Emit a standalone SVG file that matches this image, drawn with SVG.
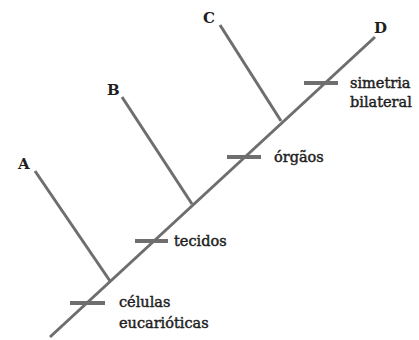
<svg xmlns="http://www.w3.org/2000/svg" width="419" height="340" viewBox="0 0 419 340">
<style>
.ln{stroke:#6e6e6e;stroke-width:3;fill:none;stroke-linecap:butt}
.tk{stroke:#6e6e6e;stroke-width:4;fill:none}
.lbl{font-family:"DejaVu Serif","Liberation Serif",serif;font-size:14.5px;fill:#1e1e1e;stroke:#1e1e1e;stroke-width:0.45}
.tax{font-family:"DejaVu Serif","Liberation Serif",serif;font-size:15px;font-weight:bold;fill:#1e1e1e}
</style>
<rect width="419" height="340" fill="#fff"/>
<g id="connectors">
<line class="ln" x1="50" y1="337" x2="375" y2="37"/>
<line class="ln" x1="35" y1="171" x2="110" y2="281"/>
<line class="ln" x1="122" y1="97" x2="192" y2="204"/>
<line class="ln" x1="220" y1="25" x2="281" y2="121"/>
</g>
<g id="tick-celulas"><line class="tk" x1="70" y1="303" x2="105" y2="303"/>
<text class="lbl" x="119" y="307">células</text><text class="lbl" x="119" y="328">eucarióticas</text></g>
<g id="tick-tecidos"><line class="tk" x1="135" y1="241" x2="168" y2="241"/>
<text class="lbl" x="174" y="246">tecidos</text></g>
<g id="tick-orgaos"><line class="tk" x1="227" y1="157" x2="261" y2="157"/>
<text class="lbl" x="274" y="162">órgãos</text></g>
<g id="tick-simetria"><line class="tk" x1="304" y1="83" x2="338" y2="83"/>
<text class="lbl" x="350" y="88">simetria</text><text class="lbl" x="350" y="107">bilateral</text></g>
<g id="node-A"><text class="tax" x="18" y="169">A</text></g>
<g id="node-B"><text class="tax" x="107" y="95">B</text></g>
<g id="node-C"><text class="tax" x="203" y="23">C</text></g>
<g id="node-D"><text class="tax" x="374" y="33">D</text></g>
</svg>
